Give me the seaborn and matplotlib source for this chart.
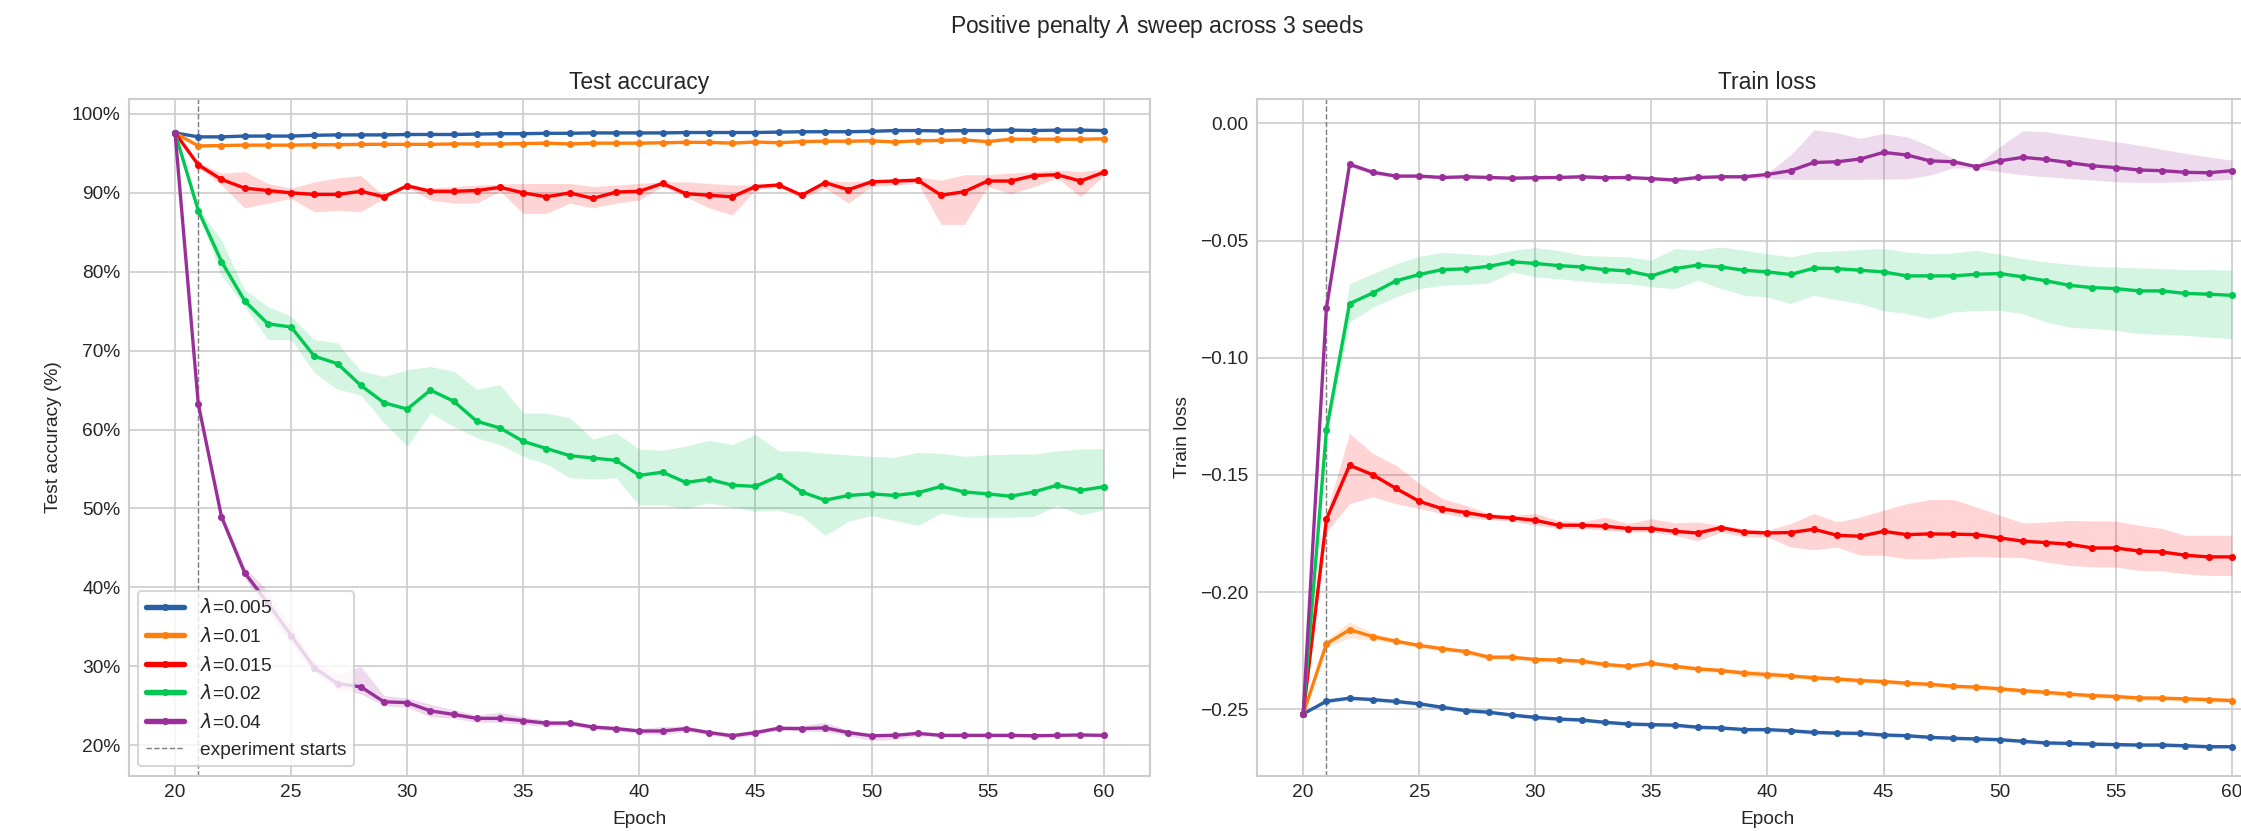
import numpy as np
import pandas as pd
import seaborn as sns
import matplotlib.pyplot as plt
from matplotlib.ticker import PercentFormatter

epochs = list(range(20, 61))
lam_labels = [r'$\lambda$=0.005', r'$\lambda$=0.01', r'$\lambda$=0.015', r'$\lambda$=0.02', r'$\lambda$=0.04']
colors = ['#2a5fa5', '#ff7f0e', '#ff0000', '#00c853', '#9a2f9a']

# ---- test accuracy (%) : mean over 3 seeds ----
acc_005 = [97.6, 97.1, 97.1, 97.2, 97.2, 97.2, 97.3, 97.35, 97.35, 97.35, 97.4, 97.4, 97.4, 97.45,
           97.5, 97.5, 97.55, 97.55, 97.6, 97.6, 97.6, 97.6, 97.65, 97.65, 97.65, 97.65, 97.7,
           97.75, 97.75, 97.75, 97.8, 97.9, 97.9, 97.85, 97.9, 97.9, 97.95, 97.9, 97.95, 97.95, 97.9]
acc_01 = [97.6, 95.95, 96.0, 96.05, 96.05, 96.05, 96.1, 96.1, 96.15, 96.15, 96.15, 96.15, 96.2, 96.2,
          96.2, 96.25, 96.3, 96.2, 96.3, 96.3, 96.3, 96.35, 96.4, 96.4, 96.3, 96.45, 96.35, 96.5,
          96.55, 96.55, 96.6, 96.45, 96.6, 96.65, 96.7, 96.5, 96.8, 96.8, 96.8, 96.8, 96.85]
acc_015 = [97.6, 93.55, 91.7, 90.6, 90.3, 90.0, 89.8, 89.8, 90.2, 89.5, 90.9, 90.2, 90.2, 90.3,
           90.7, 90.0, 89.5, 90.0, 89.3, 90.1, 90.2, 91.2, 89.9, 89.7, 89.5, 90.8, 91.0, 89.7,
           91.3, 90.4, 91.4, 91.5, 91.6, 89.7, 90.15, 91.5, 91.5, 92.2, 92.3, 91.5, 92.6]
acc_02 = [97.6, 87.76, 81.3, 76.3, 73.4, 73.0, 69.3, 68.35, 65.6, 63.4, 62.6, 65.0, 63.6, 61.05,
          60.2, 58.5, 57.6, 56.7, 56.4, 56.1, 54.2, 54.6, 53.3, 53.7, 52.95, 52.8, 54.1, 52.1,
          51.05, 51.65, 51.85, 51.65, 52.0, 52.8, 52.1, 51.85, 51.55, 52.1, 52.95, 52.3, 52.75]
acc_04 = [97.6, 63.25, 48.95, 41.85, 38.0, 33.9, 29.8, 27.8, 27.4, 25.5, 25.4, 24.35, 23.9, 23.4,
          23.4, 23.1, 22.8, 22.8, 22.3, 22.1, 21.8, 21.8, 22.1, 21.6, 21.2, 21.6, 22.15, 22.1,
          22.2, 21.6, 21.2, 21.25, 21.5, 21.25, 21.25, 21.25, 21.25, 21.2, 21.25, 21.3, 21.25]

# band (seed spread) of the accuracy curves
acc_005_hw = [0.0, 0.15, 0.15, 0.15, 0.15, 0.15, 0.15, 0.15, 0.15, 0.15, 0.15, 0.15, 0.15, 0.15,
              0.15, 0.15, 0.15, 0.15, 0.15, 0.15, 0.15, 0.15, 0.15, 0.15, 0.15, 0.15, 0.15, 0.15,
              0.15, 0.15, 0.15, 0.15, 0.15, 0.15, 0.15, 0.15, 0.15, 0.15, 0.15, 0.15, 0.15]
acc_01_hw = [0.0, 0.2, 0.15, 0.15, 0.15, 0.15, 0.15, 0.15, 0.15, 0.15, 0.15, 0.15, 0.15, 0.15,
             0.15, 0.15, 0.15, 0.15, 0.15, 0.15, 0.15, 0.15, 0.15, 0.15, 0.15, 0.15, 0.15, 0.15,
             0.15, 0.15, 0.15, 0.15, 0.15, 0.15, 0.15, 0.15, 0.15, 0.15, 0.15, 0.15, 0.15]
acc_015_hi = [97.6, 93.9, 92.5, 92.7, 91.2, 90.6, 91.4, 91.9, 92.2, 89.6, 91.0, 90.6, 90.8, 91.0,
              91.1, 91.2, 91.2, 91.2, 90.8, 91.0, 91.2, 91.4, 91.4, 91.2, 91.0, 91.0, 91.2, 89.9,
              91.6, 91.4, 91.6, 91.8, 92.0, 91.6, 92.3, 92.3, 92.5, 92.7, 92.9, 92.7, 93.0]
acc_015_lo = [97.6, 93.2, 91.0, 88.1, 88.7, 89.3, 87.6, 87.8, 87.6, 89.3, 90.7, 89.1, 88.7, 88.7,
              90.2, 87.4, 87.4, 88.7, 88.1, 88.7, 89.1, 90.8, 89.5, 88.1, 87.2, 90.4, 90.8, 89.3,
              90.6, 88.7, 90.8, 91.0, 91.2, 86.0, 86.0, 90.8, 89.9, 90.8, 91.9, 89.5, 92.2]
acc_02_hi = [97.6, 88.1, 84.0, 77.7, 75.6, 74.35, 71.4, 71.0, 67.4, 66.75, 67.6, 68.0, 67.4, 65.1,
             65.7, 62.1, 62.1, 61.5, 58.8, 59.6, 57.5, 57.4, 57.9, 58.65, 58.1, 59.4, 57.3, 57.3,
             57.0, 56.8, 56.6, 56.5, 57.1, 57.0, 56.6, 56.8, 56.9, 56.9, 57.3, 57.55, 57.55]
acc_02_lo = [97.6, 87.3, 79.5, 75.6, 71.4, 71.4, 67.2, 65.1, 64.4, 60.85, 57.9, 62.1, 60.4, 58.95,
             58.1, 56.6, 55.6, 53.9, 53.75, 53.9, 50.4, 50.5, 50.0, 50.7, 50.2, 49.65, 49.8, 49.0,
             46.6, 48.4, 49.1, 48.5, 47.85, 49.4, 48.9, 48.9, 48.9, 49.0, 50.4, 49.2, 49.8]
acc_04_hi = [97.6, 63.6, 49.5, 42.6, 39.5, 35.0, 30.5, 29.0, 30.0, 26.3, 26.0, 25.2, 24.5, 23.8,
             24.2, 23.6, 23.2, 23.1, 22.6, 22.4, 22.1, 22.4, 22.4, 21.9, 21.5, 21.9, 22.4, 22.5,
             22.9, 21.9, 21.5, 21.6, 21.7, 21.45, 21.45, 21.45, 21.45, 21.4, 21.45, 21.5, 21.45]
acc_04_lo = [97.6, 62.9, 48.4, 41.2, 36.8, 32.8, 29.2, 27.0, 26.5, 25.0, 24.8, 23.6, 23.4, 22.9,
             22.9, 22.6, 22.4, 22.5, 22.0, 21.8, 21.5, 21.3, 21.8, 21.3, 20.9, 21.3, 21.9, 21.8,
             21.7, 21.2, 20.6, 20.7, 21.2, 21.05, 21.05, 21.05, 21.05, 21.0, 21.05, 21.1, 21.05]

# ---- train loss : mean over 3 seeds ----
loss_005 = [-0.252, -0.2466, -0.2453, -0.2459, -0.2467, -0.2477, -0.2492, -0.2506, -0.2513, -0.2525,
            -0.2535, -0.2542, -0.2546, -0.2556, -0.2563, -0.2566, -0.2568, -0.2577, -0.258, -0.2587,
            -0.2587, -0.2592, -0.2599, -0.2602, -0.2603, -0.261, -0.2613, -0.262, -0.2624, -0.2627,
            -0.263, -0.2637, -0.2644, -0.2646, -0.2649, -0.2651, -0.2653, -0.2653, -0.2656, -0.266, -0.266]
loss_01 = [-0.252, -0.2221, -0.2161, -0.219, -0.221, -0.2228, -0.2242, -0.2254, -0.2278, -0.2278,
           -0.2288, -0.229, -0.2295, -0.2309, -0.2317, -0.2304, -0.2317, -0.2328, -0.2335, -0.2346,
           -0.2352, -0.2358, -0.2366, -0.2371, -0.2378, -0.2382, -0.2389, -0.2394, -0.2402, -0.2406,
           -0.2413, -0.2421, -0.2428, -0.2436, -0.2442, -0.2446, -0.2452, -0.2453, -0.2456, -0.2459, -0.2463]
loss_015 = [-0.252, -0.169, -0.1459, -0.150, -0.1558, -0.1613, -0.1645, -0.1661, -0.1677, -0.1684,
            -0.1694, -0.1715, -0.1715, -0.1719, -0.1729, -0.1729, -0.1741, -0.1748, -0.1725, -0.1744,
            -0.1748, -0.1746, -0.1732, -0.1758, -0.1762, -0.1741, -0.1755, -0.1752, -0.1753, -0.1755,
            -0.1769, -0.1783, -0.1789, -0.1796, -0.1812, -0.1812, -0.1825, -0.1829, -0.1843, -0.185, -0.185]
loss_02 = [-0.252, -0.131, -0.0769, -0.0724, -0.0672, -0.0645, -0.0624, -0.0621, -0.061, -0.0591,
           -0.0598, -0.0607, -0.0613, -0.0624, -0.063, -0.0651, -0.062, -0.0605, -0.0613, -0.0627,
           -0.0634, -0.0645, -0.0618, -0.062, -0.0627, -0.0634, -0.0651, -0.0651, -0.0651, -0.0644,
           -0.0641, -0.0655, -0.0672, -0.0691, -0.0701, -0.0705, -0.0715, -0.0715, -0.0726, -0.0729, -0.0734]
loss_04 = [-0.252, -0.0788, -0.0175, -0.0209, -0.0225, -0.0225, -0.0231, -0.0228, -0.0231, -0.0234,
           -0.0232, -0.0231, -0.0228, -0.0232, -0.0231, -0.0236, -0.0242, -0.0231, -0.0228, -0.0228,
           -0.0218, -0.0202, -0.0167, -0.0164, -0.0152, -0.0124, -0.0135, -0.016, -0.0164, -0.0185,
           -0.016, -0.0145, -0.0154, -0.0168, -0.0181, -0.0189, -0.0199, -0.0202, -0.0209, -0.0211, -0.0202]

loss_005_hw = [0.0, 0.0008, 0.0008, 0.0008, 0.0008, 0.0008, 0.0008, 0.0008, 0.0008, 0.0008,
               0.0008, 0.0008, 0.0008, 0.0008, 0.0008, 0.0008, 0.0008, 0.0008, 0.0008, 0.0008,
               0.0008, 0.0008, 0.0008, 0.0008, 0.0008, 0.0008, 0.0008, 0.0008, 0.0008, 0.0008,
               0.0008, 0.0008, 0.0008, 0.0008, 0.0008, 0.0008, 0.0008, 0.0008, 0.0008, 0.0008, 0.0008]
loss_01_hw = [0.0, 0.0015, 0.0035, 0.0015, 0.001, 0.001, 0.001, 0.001, 0.001, 0.001,
              0.001, 0.001, 0.001, 0.001, 0.001, 0.001, 0.001, 0.001, 0.001, 0.0015,
              0.0015, 0.001, 0.001, 0.001, 0.001, 0.001, 0.001, 0.001, 0.001, 0.001,
              0.001, 0.001, 0.001, 0.001, 0.001, 0.001, 0.001, 0.001, 0.001, 0.001, 0.001]
loss_015_hi = [-0.252, -0.1665, -0.1323, -0.1409, -0.1459, -0.1537, -0.1601, -0.1630, -0.1665, -0.1672,
               -0.1665, -0.1694, -0.1701, -0.1680, -0.1708, -0.1687, -0.1705, -0.1701, -0.1715, -0.1729,
               -0.1737, -0.1708, -0.1665, -0.1701, -0.1680, -0.1651, -0.1623, -0.1605, -0.1605, -0.1637,
               -0.1672, -0.1705, -0.1701, -0.1694, -0.1697, -0.1697, -0.1715, -0.1729, -0.1758, -0.1758, -0.1758]
loss_015_lo = [-0.252, -0.1744, -0.1623, -0.1594, -0.1623, -0.1644, -0.1665, -0.1682, -0.1691, -0.1697,
               -0.1715, -0.1729, -0.1729, -0.1737, -0.1744, -0.1744, -0.1758, -0.1782, -0.1744, -0.1765,
               -0.1765, -0.1808, -0.1819, -0.1808, -0.1843, -0.1843, -0.1858, -0.1858, -0.1851, -0.1848,
               -0.1851, -0.1853, -0.1872, -0.1886, -0.1893, -0.1893, -0.1908, -0.1910, -0.1922, -0.1929, -0.1929]
loss_02_hi = [-0.252, -0.128, -0.0684, -0.0641, -0.0599, -0.0567, -0.0551, -0.0556, -0.0563, -0.0542,
              -0.053, -0.0542, -0.0563, -0.0567, -0.057, -0.0584, -0.0534, -0.0542, -0.0527, -0.0542,
              -0.0556, -0.057, -0.0549, -0.0544, -0.0538, -0.0534, -0.0549, -0.0556, -0.0553, -0.0542,
              -0.0559, -0.0577, -0.0591, -0.0601, -0.061, -0.0613, -0.0617, -0.062, -0.0624, -0.0624, -0.0627]
loss_02_lo = [-0.252, -0.134, -0.0848, -0.0784, -0.0741, -0.0705, -0.0691, -0.0688, -0.0681, -0.0634,
              -0.0655, -0.0663, -0.0673, -0.0681, -0.0684, -0.0698, -0.0705, -0.067, -0.0705, -0.0734,
              -0.0741, -0.0769, -0.0734, -0.0752, -0.0769, -0.08, -0.0812, -0.0833, -0.0805, -0.0798,
              -0.0798, -0.0812, -0.0848, -0.0869, -0.0876, -0.0883, -0.0897, -0.09, -0.0905, -0.0912, -0.0919]
loss_04_hi = [-0.252, -0.0775, -0.0165, -0.0198, -0.0218, -0.0219, -0.0225, -0.0222, -0.0225, -0.0228,
              -0.0226, -0.0225, -0.0222, -0.0226, -0.0225, -0.023, -0.0236, -0.0225, -0.0222, -0.0222,
              -0.0211, -0.0135, -0.0028, -0.004, -0.0064, -0.0043, -0.0057, -0.0097, -0.015, -0.018,
              -0.010, -0.0031, -0.0036, -0.005, -0.0064, -0.0078, -0.0093, -0.0111, -0.0128, -0.0143, -0.0157]
loss_04_lo = [-0.252, -0.080, -0.0185, -0.0218, -0.0232, -0.0232, -0.0237, -0.0234, -0.0237, -0.024,
              -0.0238, -0.0237, -0.0234, -0.0238, -0.0237, -0.0242, -0.0248, -0.0237, -0.0234, -0.0234,
              -0.0237, -0.0239, -0.0239, -0.0239, -0.0239, -0.0238, -0.0237, -0.0221, -0.019, -0.0192,
              -0.0207, -0.022, -0.0228, -0.0235, -0.0242, -0.0249, -0.0252, -0.0252, -0.0249, -0.0244, -0.0239]

acc_yticks = [20, 30, 40, 50, 60, 70, 80, 90, 100]
loss_yticks = [0.0, -0.05, -0.10, -0.15, -0.20, -0.25]
xticks = [20, 25, 30, 35, 40, 45, 50, 55, 60]
start_epoch = 21

sns.set_style("whitegrid")
plt.rcParams['font.family'] = ['Liberation Sans', 'DejaVu Sans']
plt.rcParams['axes.linewidth'] = 1.0
plt.rcParams['grid.linewidth'] = 0.8
plt.rcParams['xtick.major.size'] = 0
plt.rcParams['ytick.major.size'] = 0
plt.rcParams['xtick.major.pad'] = 4
plt.rcParams['ytick.major.pad'] = 4
plt.rcParams['xtick.labelsize'] = 9.2
plt.rcParams['ytick.labelsize'] = 9.2
plt.rcParams['axes.labelsize'] = 9.2
plt.rcParams['axes.labelpad'] = 4.5

fig = plt.figure(figsize=(2241 / 150, 831 / 150), dpi=150)
ax1 = fig.add_axes([0.0574, 0.0662, 0.4558, 0.8147])
ax2 = fig.add_axes([0.5608, 0.0662, 0.4558, 0.8147])


def draw_panel(ax, means, lows, highs):
    for m, lo, hi, lab, c in zip(means, lows, highs, lam_labels, colors):
        ax.fill_between(epochs, lo, hi, color=c, alpha=0.17, linewidth=0)
        sns.lineplot(x=epochs, y=m, ax=ax, color=c, label=lab, marker='o', markersize=3.4,
                     markeredgewidth=0, linewidth=1.6, errorbar=None, legend=False)
    ax.axvline(start_epoch, color='#808080', linestyle='--', linewidth=0.7,
               label='experiment starts', zorder=1)
    ax.set_xlim(18, 62)
    ax.set_xticks(xticks)
    ax.set_xlabel('Epoch')


acc_means = [acc_005, acc_01, acc_015, acc_02, acc_04]
acc_lows = [np.array(acc_005) - np.array(acc_005_hw), np.array(acc_01) - np.array(acc_01_hw),
            acc_015_lo, acc_02_lo, acc_04_lo]
acc_highs = [np.array(acc_005) + np.array(acc_005_hw), np.array(acc_01) + np.array(acc_01_hw),
             acc_015_hi, acc_02_hi, acc_04_hi]
draw_panel(ax1, acc_means, acc_lows, acc_highs)
ax1.set_ylim(16.1, 101.9)
ax1.set_yticks(acc_yticks)
ax1.yaxis.set_major_formatter(PercentFormatter(decimals=0))
ax1.set_ylabel('Test accuracy (%)')
ax1.set_title('Test accuracy', fontsize=11, pad=5)

loss_means = [loss_005, loss_01, loss_015, loss_02, loss_04]
loss_lows = [np.array(loss_005) - np.array(loss_005_hw), np.array(loss_01) - np.array(loss_01_hw),
             loss_015_lo, loss_02_lo, loss_04_lo]
loss_highs = [np.array(loss_005) + np.array(loss_005_hw), np.array(loss_01) + np.array(loss_01_hw),
              loss_015_hi, loss_02_hi, loss_04_hi]
draw_panel(ax2, loss_means, loss_lows, loss_highs)
ax2.set_ylim(-0.2785, 0.0104)
ax2.set_yticks(loss_yticks)
ax2.set_ylabel('Train loss')
ax2.set_title('Train loss', fontsize=11, pad=5)

handles, labels = ax1.get_legend_handles_labels()
leg = ax1.legend(handles, labels, loc='lower left', frameon=True, fontsize=9.2)
for h in leg.legend_handles[:-1]:
    h.set_linewidth(2.6)

fig.text(1157 / 2241, 1 - 33 / 831, r'Positive penalty $\lambda$ sweep across 3 seeds',
         ha='center', va='baseline', fontsize=11)

fig.savefig('out.png', dpi=150)
